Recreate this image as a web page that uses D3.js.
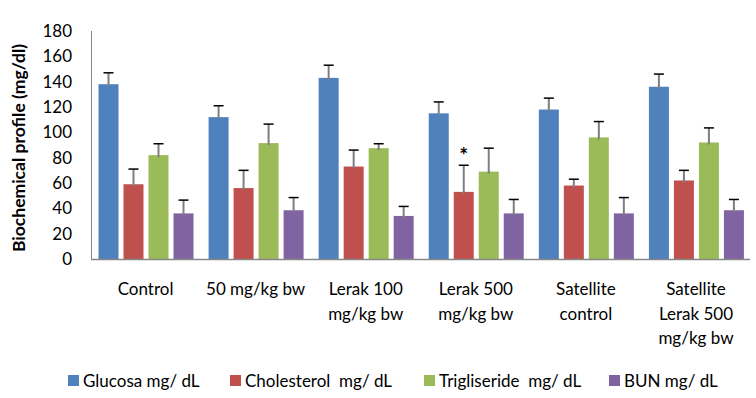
<!DOCTYPE html>
<html>
<head>
<meta charset="utf-8">
<script src="https://cdn.jsdelivr.net/npm/d3@7"></script>
<style>
  html, body { margin: 0; padding: 0; background: #fff; }
  svg { display: block; font-family: "Lato", "Open Sans", sans-serif; }
  .tick-label, .cat-label, .legend-label { font-size: 17px; fill: #000; }
  .legend-label { white-space: pre; }
  .y-title { font-size: 17.5px; font-weight: bold; fill: #000; }
</style>
</head>
<body>
<div id="chart"></div>
<script>
// Biochemical profile per group (mg/dl), mean + upper error bar
const categories = ["Control", "50 mg/kg bw", "Lerak 100 mg/kg bw", "Lerak 500 mg/kg bw", "Satellite control", "Satellite Lerak 500 mg/kg bw"];
const categoryLines = [["Control"], ["50 mg/kg bw"], ["Lerak 100", "mg/kg bw"], ["Lerak 500", "mg/kg bw"], ["Satellite", "control"], ["Satellite", "Lerak 500", "mg/kg bw"]];
const seriesNames = ["Glucosa mg/ dL", "Cholesterol  mg/ dL", "Trigliseride  mg/ dL", "BUN mg/ dL"];

const glucosa = [138, 112, 143, 115, 118, 136];
const glucosaErr = [9, 9, 10, 9, 9, 10];
const cholesterol = [59, 56, 73, 53, 58, 62];
const cholesterolErr = [12, 14, 13, 21, 5, 8];
const trigliseride = [82, 91.5, 87.5, 69, 96, 92];
const trigliserideErr = [9, 15, 3.5, 18.5, 12.5, 11.5];
const bun = [36, 38.5, 34, 36, 36, 38.5];
const bunErr = [10.5, 10, 7.5, 11, 12.5, 8.5];

const yTicks = [0, 20, 40, 60, 80, 100, 120, 140, 160, 180];
const significant = [{ category: "Lerak 500 mg/kg bw", series: "Cholesterol  mg/ dL", mark: "*" }];

const COLORS = ["#4F81BD", "#C0504D", "#9BBB59", "#8064A2"];
const W = 756, H = 398;

const seriesValues = [glucosa, cholesterol, trigliseride, bun];
const seriesErrs = [glucosaErr, cholesterolErr, trigliserideErr, bunErr];

const rows = [];
categories.forEach((c, i) => {
  seriesNames.forEach((s, j) => {
    rows.push({ category: c, series: s, value: seriesValues[j][i], err: seriesErrs[j][i] });
  });
});

const svg = d3.select("#chart").append("svg")
  .attr("width", W).attr("height", H);

const x0 = d3.scaleBand().domain(categories).range([91.5, 752]);
const x1 = d3.scaleBand().domain(seriesNames).range([7, 102]).paddingInner(0.2);
const y = d3.scaleLinear().domain([0, 180]).range([259, 31]);
const color = d3.scaleOrdinal().domain(seriesNames).range(COLORS);

// title, mostly cropped at the top edge (as in the source figure)
svg.append("text")
  .attr("x", 390).attr("y", -4)
  .attr("text-anchor", "middle")
  .attr("class", "tick-label")
  .text("(a)");

// y tick labels
svg.append("g")
  .selectAll("text")
  .data(yTicks)
  .join("text")
  .attr("class", "tick-label")
  .attr("x", 72)
  .attr("y", d => y(d))
  .attr("dy", "0.35em")
  .attr("text-anchor", "end")
  .text(d => d);

// y title
svg.append("text")
  .attr("class", "y-title")
  .attr("transform", `translate(25,${y(90) + 3})rotate(-90)`)
  .attr("text-anchor", "middle")
  .text("Biochemical profile (mg/dl)");

// bars
const groups = svg.append("g")
  .selectAll("g")
  .data(categories)
  .join("g")
  .attr("transform", d => `translate(${x0(d)},0)`);

groups.selectAll("rect")
  .data(c => rows.filter(r => r.category === c))
  .join("rect")
  .attr("x", d => x1(d.series))
  .attr("y", d => y(d.value))
  .attr("width", x1.bandwidth())
  .attr("height", d => y(0) - y(d.value))
  .attr("fill", d => color(d.series));

// error bars (plus direction)
const eb = groups.selectAll("g.err")
  .data(c => rows.filter(r => r.category === c))
  .join("g")
  .attr("class", "err")
  .attr("transform", d => `translate(${x1(d.series) + x1.bandwidth() / 2},0)`);

eb.append("line")
  .attr("x1", 0).attr("x2", 0)
  .attr("y1", d => y(d.value) + 2)
  .attr("y2", d => y(d.value + d.err))
  .attr("stroke", "#7f7f7f")
  .attr("stroke-width", 2);

eb.append("line")
  .attr("x1", -5).attr("x2", 5)
  .attr("y1", d => y(d.value + d.err))
  .attr("y2", d => y(d.value + d.err))
  .attr("stroke", "#000")
  .attr("stroke-width", 1.5);

// significance mark
svg.append("g")
  .selectAll("text")
  .data(significant)
  .join("text")
  .attr("x", d => x0(d.category) + x1(d.series) + x1.bandwidth() / 2)
  .attr("y", d => {
    const r = rows.find(r => r.category === d.category && r.series === d.series);
    return y(r.value + r.err) - 2;
  })
  .attr("text-anchor", "middle")
  .attr("font-size", 21)
  .attr("font-weight", "bold")
  .text(d => d.mark);

// axes lines
svg.append("line")
  .attr("x1", 91.5).attr("x2", 91.5)
  .attr("y1", y(180)).attr("y2", y(0))
  .attr("stroke", "#868686").attr("stroke-width", 1);
svg.append("line")
  .attr("x1", 91).attr("x2", 750)
  .attr("y1", y(0) + 0.5).attr("y2", y(0) + 0.5)
  .attr("stroke", "#868686").attr("stroke-width", 1.5);

// category labels
const catG = svg.append("g")
  .selectAll("text")
  .data(categories)
  .join("text")
  .attr("class", "cat-label")
  .attr("text-anchor", "middle")
  .attr("x", d => x0(d) + x0.bandwidth() / 2 - 1)
  .attr("y", 295);
catG.selectAll("tspan")
  .data((d, i) => categoryLines[i])
  .join("tspan")
  .attr("x", function () { return this.parentNode.getAttribute("x"); })
  .attr("dy", (d, i) => i === 0 ? 0 : 24.5)
  .text(d => d);

// legend
const legendX = [68, 230, 424, 609];
const legend = svg.append("g")
  .selectAll("g")
  .data(seriesNames)
  .join("g")
  .attr("transform", (d, i) => `translate(${legendX[i]},381)`);
legend.append("rect")
  .attr("x", 0).attr("y", -6)
  .attr("width", 11).attr("height", 11)
  .attr("fill", d => color(d));
legend.append("text")
  .attr("class", "legend-label")
  .attr("x", 15)
  .attr("y", 0)
  .attr("dy", "0.35em")
  .text(d => d);
</script>
</body>
</html>
